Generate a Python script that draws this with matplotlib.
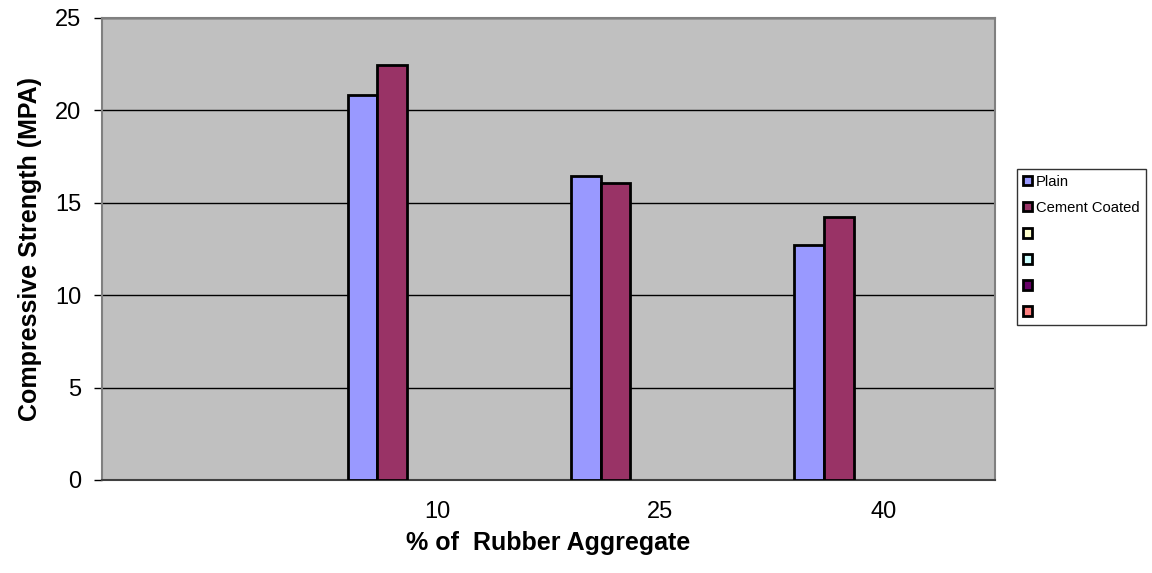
import matplotlib
matplotlib.use("Agg")
import matplotlib.pyplot as plt
from matplotlib.patches import Patch
import numpy as np

categories = ["", "10", "25", "40"]
series_names = ["Plain", "Cement Coated", " ", " ", " ", " "]
plain = [np.nan, 20.85, 16.45, 12.7]
cement_coated = [np.nan, 22.45, 16.05, 14.25]
series_colors = ["#9999FF", "#993366", "#FFFFCC", "#CCFFFF", "#660066", "#FF8080"]
y_ticks = [0, 5, 10, 15, 20, 25]

plt.rcParams['font.family'] = ['Liberation Sans', 'DejaVu Sans']

fig = plt.figure(figsize=(11.52, 5.73), dpi=100)
ax = fig.add_axes([102/1152, 1-480/573, (995-102)/1152, (480-18)/573])
ax.set_facecolor("#C0C0C0")

x = np.arange(len(categories))
n_series = 6
w = 1/7.5
data = [plain, cement_coated]
for i, vals in enumerate(data):
    ax.bar(x + (i - (n_series-1)/2) * w, vals, width=w, color=series_colors[i],
           edgecolor="black", linewidth=2, zorder=3)

ax.set_xlim(-0.5, len(categories)-0.5)
ax.set_ylim(0, 25)
ax.set_yticks(y_ticks)
ax.set_xticks(x)
ax.set_xticklabels(categories)
ax.tick_params(axis='x', length=0, pad=15, labelsize=17)
ax.tick_params(axis='y', length=6, width=1, direction='out', pad=9, labelsize=17)
ax.yaxis.grid(True, color="black", linewidth=1, zorder=1)
ax.set_axisbelow(True)
for s in ["top", "right", "left"]:
    ax.spines[s].set_color("#808080")
    ax.spines[s].set_linewidth(1.5)
ax.spines["bottom"].set_color("#404040")
ax.spines["bottom"].set_linewidth(1.5)

ax.set_ylabel("Compressive Strength (MPA)", fontsize=18, fontweight='bold', labelpad=9)
ax.set_xlabel("% of  Rubber Aggregate", fontsize=18, fontweight='bold', labelpad=6)

handles = [Patch(facecolor=c, edgecolor="black", linewidth=2) for c in series_colors]
leg = fig.legend(handles, series_names, loc='upper left',
                 bbox_to_anchor=(1017/1152, 1-169/573), fontsize=10.6,
                 frameon=True, fancybox=False, edgecolor="black",
                 handlelength=0.6, handleheight=0.6, handletextpad=0.3,
                 labelspacing=0.82, borderpad=0.4, borderaxespad=0)
leg.get_frame().set_linewidth(1)

fig.savefig("out.png", dpi=100)
